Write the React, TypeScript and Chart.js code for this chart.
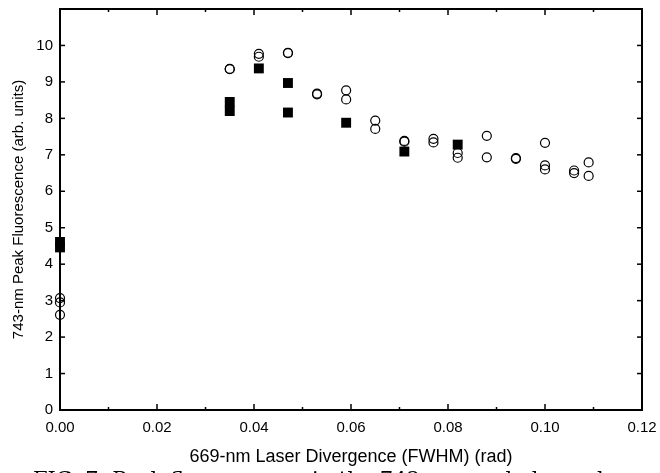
import { useEffect, useRef } from 'react';
import { Chart, registerables } from 'chart.js';
Chart.register(...registerables);

// Open circles: laser divergence (rad) and 743-nm peak fluorescence (arb. units)
const OPEN_DIVERGENCE = [
  0, 0, 0,
  0.035, 0.035,
  0.041, 0.041,
  0.047, 0.047,
  0.053, 0.053,
  0.059, 0.059,
  0.065, 0.065,
  0.071, 0.071,
  0.077, 0.077,
  0.082, 0.082,
  0.088, 0.088,
  0.094, 0.094,
  0.1, 0.1, 0.1,
  0.106, 0.106,
  0.109, 0.109,
];
const OPEN_FLUORESCENCE = [
  3.07, 2.95, 2.61,
  9.36, 9.35,
  9.77, 9.69,
  9.80, 9.79,
  8.68, 8.66,
  8.77, 8.52,
  7.94, 7.71,
  7.38, 7.36,
  7.44, 7.34,
  7.05, 6.92,
  7.52, 6.93,
  6.91, 6.89,
  7.33, 6.71, 6.60,
  6.57, 6.50,
  6.79, 6.42,
];

// Filled squares
const FILLED_DIVERGENCE = [0, 0, 0.035, 0.035, 0.041, 0.047, 0.047, 0.059, 0.071, 0.082];
const FILLED_FLUORESCENCE = [4.61, 4.46, 8.45, 8.20, 9.37, 8.97, 8.16, 7.88, 7.09, 7.28];

const X_TITLE = '669-nm Laser Divergence (FWHM) (rad)';
const Y_TITLE = '743-nm Peak Fluorescence (arb. units)';
const CAPTION = 'FIG. 7: Peak fluorescence in the 743-nm peak dependence';

const SANS = '"Liberation Sans", Arial, Helvetica, sans-serif';

const frameTicks = {
  id: 'frameTicks',
  beforeDatasetsDraw(chart: any) {
    const { ctx, chartArea, scales } = chart;
    const { left, right, top, bottom } = chartArea;
    const xs = scales.x;
    const ys = scales.y;
    ctx.save();
    ctx.strokeStyle = '#000';
    ctx.lineWidth = 2;
    ctx.strokeRect(left, top, right - left, bottom - top);
    ctx.lineWidth = 1.5;
    const line = (x1: number, y1: number, x2: number, y2: number) => {
      ctx.beginPath();
      ctx.moveTo(x1, y1);
      ctx.lineTo(x2, y2);
      ctx.stroke();
    };
    xs.ticks.forEach((t: any) => {
      const px = xs.getPixelForValue(t.value);
      const major = Math.round(t.value * 100) % 2 === 0;
      const len = major ? 6 : 3;
      line(px, bottom, px, bottom - len);
      line(px, top, px, top + len);
    });
    ys.ticks.forEach((t: any) => {
      const py = ys.getPixelForValue(t.value);
      line(left, py, left + 5, py);
      line(right, py, right - 5, py);
    });
    ctx.restore();
  },
  afterDraw(chart: any) {
    const { ctx } = chart;
    ctx.save();
    ctx.fillStyle = '#000';
    ctx.font = '21px "DejaVu Serif", "Liberation Serif", serif';
    ctx.textBaseline = 'top';
    ctx.textAlign = 'left';
    ctx.fillText(CAPTION, 33, 470);
    ctx.restore();
  },
};

export default function App() {
  const ref = useRef<HTMLCanvasElement>(null);
  useEffect(() => {
    document.body.style.margin = '0';
    const openPts = OPEN_DIVERGENCE.map((x, i) => ({ x, y: OPEN_FLUORESCENCE[i] }));
    const filledPts = FILLED_DIVERGENCE.map((x, i) => ({ x, y: FILLED_FLUORESCENCE[i] }));
    const chart = new Chart(ref.current as HTMLCanvasElement, {
      type: 'scatter',
      data: {
        datasets: [
          {
            label: 'filled',
            data: filledPts,
            pointStyle: 'rect',
            pointRadius: 7,
            pointHoverRadius: 7,
            backgroundColor: '#000',
            borderColor: '#000',
            borderWidth: 0,
            clip: false,
          } as any,
          {
            label: 'open',
            data: openPts,
            pointStyle: 'circle',
            pointRadius: 4.5,
            pointHoverRadius: 4.5,
            backgroundColor: 'rgba(0,0,0,0)',
            borderColor: '#000',
            borderWidth: 1.2,
            clip: false,
          } as any,
        ],
      },
      options: {
        responsive: false,
        animation: false,
        events: [],
        layout: { padding: { top: 9, right: 18, left: 0, bottom: 0 } },
        plugins: {
          legend: { display: false },
          tooltip: { enabled: false },
        },
        scales: {
          x: {
            type: 'linear',
            min: 0,
            max: 0.12,
            afterFit: (s: any) => {
              s.height = 63;
              s.paddingLeft = 0;
              s.paddingRight = 0;
            },
            grid: { display: false, drawTicks: false },
            border: { display: false },
            ticks: {
              stepSize: 0.01,
              autoSkip: false,
              maxRotation: 0,
              padding: 9,
              color: '#000',
              font: { family: SANS, size: 15 },
              callback: (v: any) => (Math.round(Number(v) * 100) % 2 === 0 ? Number(v).toFixed(2) : ''),
            },
            title: {
              display: true,
              text: X_TITLE,
              color: '#000',
              font: { family: SANS, size: 18 },
              padding: { top: 0, bottom: 5 },
            },
          },
          y: {
            type: 'linear',
            min: 0,
            max: 11,
            afterFit: (s: any) => {
              s.width = 60;
              s.paddingTop = 0;
              s.paddingBottom = 0;
            },
            grid: { display: false, drawTicks: false },
            border: { display: false },
            ticks: {
              stepSize: 1,
              autoSkip: false,
              padding: 7,
              color: '#000',
              font: { family: SANS, size: 15 },
              callback: (v: any) => (Number(v) <= 10 ? String(v) : ''),
            },
            title: {
              display: true,
              text: Y_TITLE,
              color: '#000',
              font: { family: SANS, size: 15 },
              padding: { top: 10, bottom: 0 },
            },
          },
        },
      } as any,
      plugins: [frameTicks],
    });
    return () => chart.destroy();
  }, []);
  return (
    <div style={{ position: 'relative', width: 660, height: 473 }}>
      <canvas ref={ref} width={660} height={473} style={{ display: 'block' }} />
    </div>
  );
}
